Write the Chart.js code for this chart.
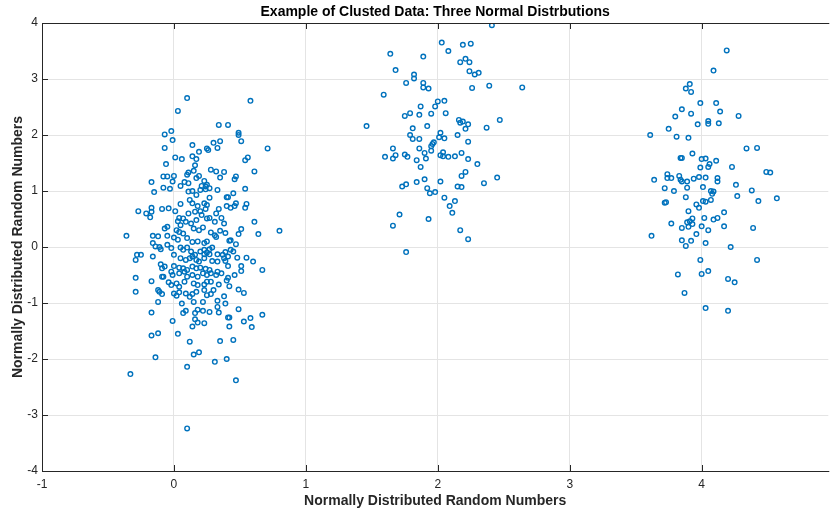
<!DOCTYPE html>
<html>
<head>
<meta charset="utf-8">
<script src="https://cdn.jsdelivr.net/npm/chart.js@4"></script>
<style>
  html, body { margin: 0; padding: 0; background: #fff; }
  #wrap { width: 832px; height: 512px; }
</style>
</head>
<body>
<div id="wrap"><canvas id="myChart" width="832" height="512"></canvas></div>
<script>
// cluster around (0, 0)
const cluster1X = [
  0.10, 0.03, -0.02, -0.07, -0.01, -0.07, 0.14, 0.25, 0.19, 0.01, 0.06, 0.14, 0.17, 0.16, -0.06, 0.15, 0.11, 0.10, 0.19, -0.08,
  -0.05, 0.00, 0.17, -0.17, -0.01, 0.08, 0.11, 0.23, -0.08, -0.03, 0.05, 0.21, 0.24, -0.15, 0.11, 0.14, 0.20, 0.24, 0.25, 0.17,
  -0.17, -0.09, -0.04, 0.05, 0.12, 0.14, 0.18, 0.23, 0.25,
  0.58, 0.34, 0.41, 0.49, 0.49, 0.51, 0.35, 0.30, 0.26, 0.33, 0.71, 0.56, 0.54, 0.28, 0.32, 0.38, 0.61, 0.35, 0.47, 0.46,
  0.27, 0.33, 0.54, 0.45, 0.40, 0.41, 0.27, 0.34, 0.40, 0.43, 0.47, 0.46, 0.55, 0.54,
  -0.27, -0.21, -0.17, 0.01, 0.04, 0.07, 0.11, 0.16, 0.20, 0.24, -0.18, 0.03, 0.05, 0.09, 0.13, 0.15, 0.19, 0.22, 0.25, 0.17,
  0.21, -0.07, -0.05, 0.02, 0.04, 0.07, -0.36, -0.16, -0.12, -0.05, 0.00, 0.03, 0.10, 0.14, 0.18, 0.23, 0.25, -0.16, -0.14, -0.11,
  -0.10, -0.05, -0.02, 0.05, 0.07, 0.10, 0.13, 0.16, 0.20, 0.23, 0.25, -0.28, -0.25, -0.16, -0.29, 0.00, 0.05, 0.09, 0.12, 0.14,
  0.17, 0.19, 0.23, -0.10, -0.09, -0.07, 0.00, 0.04, 0.07, 0.10, 0.14, 0.17, 0.20, 0.24, -0.02, -0.01, 0.04, 0.08, 0.10, 0.14,
  0.18, 0.22, 0.25, -0.09, -0.08, -0.29, -0.17, -0.04, -0.02, 0.02, 0.04, 0.08, 0.15, 0.18, 0.23, 0.25, -0.12, -0.11, -0.09, -0.29,
  0.00, 0.02, 0.04, 0.09, 0.12, 0.14, 0.17, 0.23, 0.25, -0.12, 0.06, 0.15, 0.22, -0.17, 0.07, 0.09, 0.16, 0.18, 0.22,
  0.32, 0.36, 0.27, 0.31, 0.38, 0.61, 0.80, 0.51, 0.49, 0.64, 0.28, 0.31, 0.32, 0.35, 0.39, 0.43, 0.42, 0.47, 0.27, 0.29,
  0.23, 0.27, 0.33, 0.37, 0.39, 0.43, 0.45, 0.48, 0.41, 0.38, 0.39, 0.33, 0.29, 0.41, 0.55, 0.60, 0.51, 0.51, 0.67, 0.27,
  0.28, 0.33, 0.36, 0.32, 0.28, 0.34, 0.41, 0.46, 0.40, 0.42, 0.49, 0.53, 0.30, 0.28, 0.38, 0.33, 0.39, 0.33, 0.49, 0.27,
  0.34, 0.41, 0.42, 0.58, 0.67,
  -0.01, 0.16, 0.18, 0.23, 0.14, 0.42, 0.53, 0.59, -0.17, -0.12, 0.03, 0.12, 0.35, 0.45, -0.14, 0.15, 0.19, 0.31, 0.40, 0.10,
  -0.33, 0.47, 0.10
];
const cluster1Y = [
  2.66, 2.43, 2.07, 2.01, 1.91, 1.77, 1.82, 1.76, 1.70, 1.60, 1.57, 1.62, 1.57, 1.46, 1.48, 1.36, 1.33, 1.29, 1.27, 1.26,
  1.26, 1.27, 1.23, 1.16, 1.17, 1.16, 1.14, 1.18, 1.06, 1.04, 1.09, 1.09, 1.08, 0.98, 0.99, 1.00, 1.02, 1.03, 1.11, 0.93,
  0.70, 0.68, 0.69, 0.77, 0.84, 0.78, 0.73, 0.78, 0.75,
  2.61, 2.18, 2.18, 2.04, 2.00, 1.89, 1.89, 1.86, 1.73, 1.77, 1.76, 1.60, 1.55, 1.38, 1.35, 1.34, 1.35, 1.24, 1.26, 1.21,
  1.05, 1.02, 1.04, 0.96, 0.89, 0.89, 0.88, 0.68, 0.73, 0.70, 0.78, 0.73, 0.77, 0.70,
  0.64, 0.60, 0.63, 0.64, 0.52, 0.51, 0.60, 0.63, 0.64, 0.68, 0.53, 0.46, 0.39, 0.45, 0.42, 0.33, 0.30, 0.35, 0.51, 0.48,
  0.57, 0.33, 0.36, 0.30, 0.27, 0.24, 0.20, 0.20, 0.19, 0.20, 0.17, 0.13, 0.16, 0.09, 0.10, 0.07, 0.10, 0.07, 0.01, 0.00,
  -0.04, 0.04, -0.02, -0.01, -0.05, -0.01, -0.08, -0.14, -0.08, -0.05, -0.10, -0.14, -0.14, -0.17, -0.23, -0.14, -0.20, -0.23, -0.20, -0.17,
  -0.23, -0.26, -0.20, -0.31, -0.38, -0.35, -0.34, -0.37, -0.38, -0.41, -0.35, -0.38, -0.37, -0.39, -0.44, -0.50, -0.47, -0.44, -0.53, -0.50,
  -0.53, -0.47, -0.50, -0.53, -0.53, -0.55, -0.61, -0.63, -0.68, -0.65, -0.71, -0.62, -0.65, -0.68, -0.67, -0.62, -0.77, -0.80, -0.84, -0.80,
  -0.83, -0.87, -0.81, -0.83, -0.89, -0.84, -0.80, -0.77, -0.86, -0.98, -1.01, -0.98, -0.98, -1.17, -1.18, -1.14, -1.18, -1.12, -1.14,
  0.60, 0.52, 0.52, 0.45, 0.42, 0.45, 0.29, 0.32, 0.23, 0.23, 0.26, 0.21, 0.18, 0.29, 0.25, 0.12, 0.11, 0.05, -0.04, -0.01,
  -0.13, -0.13, -0.13, -0.14, -0.09, -0.05, -0.08, -0.19, -0.17, -0.20, -0.25, -0.26, -0.25, -0.34, -0.19, -0.26, -0.34, -0.43, -0.41, -0.41,
  -0.47, -0.44, -0.47, -0.50, -0.62, -0.67, -0.55, -0.50, -0.60, -0.70, -0.76, -0.82, -0.77, -0.84, -0.88, -0.96, -1.01, -1.07, -1.11, -1.16,
  -1.17, -1.26, -1.26, -1.27, -1.21,
  -1.32, -1.29, -1.35, -1.36, -1.42, -1.42, -1.33, -1.43, -1.58, -1.54, -1.55, -1.69, -1.68, -1.66, -1.97, -1.92, -1.88, -2.05, -2.00, -2.14,
  -2.27, -2.38, -3.24
];

// cluster around (2, 2)
const cluster2X = [
  2.03, 1.64, 1.89, 1.68, 1.82, 1.82, 1.76, 1.89, 1.89, 1.93, 1.59, 2.00, 1.98, 1.87, 1.95, 1.86, 1.79, 1.75, 1.46, 1.92,
  1.81, 2.02, 1.79, 1.81, 1.86,
  2.41, 2.19, 2.25, 2.08, 2.21, 2.17, 2.24, 2.24, 2.28, 2.31, 2.26, 2.39, 2.64, 2.05, 2.06, 2.16, 2.17, 2.19, 2.23, 2.21,
  2.47, 2.37, 2.15, 2.05, 2.01,
  2.23, 1.97, 1.96, 1.95, 1.66, 1.86, 1.95, 1.90, 2.04, 2.18, 1.60, 1.66, 1.68, 1.75, 1.77, 1.84, 1.91, 2.02, 2.04, 2.08,
  2.13, 2.23, 2.30, 1.87, 2.21, 2.18, 2.45, 2.35, 1.84, 1.90, 2.02, 1.73, 1.76, 2.15, 2.18, 1.92, 1.94, 1.98, 2.05, 2.13,
  2.09, 2.11, 1.71, 1.66, 1.93, 2.17, 2.23, 1.76
];
const cluster2Y = [
  3.65, 3.45, 3.40, 3.16, 3.08, 3.01, 2.93, 2.93, 2.85, 2.83, 2.72, 2.60, 2.51, 2.51, 2.38, 2.36, 2.39, 2.34, 2.16, 2.16,
  2.12, 2.04, 2.00, 1.93, 1.93,
  3.96, 3.61, 3.63, 3.50, 3.36, 3.30, 3.30, 3.14, 3.08, 3.11, 2.84, 2.88, 2.85, 2.61, 2.39, 2.27, 2.22, 2.24, 2.19, 2.11,
  2.27, 2.13, 2.00, 1.94, 1.96,
  1.88, 1.87, 1.84, 1.80, 1.76, 1.76, 1.72, 1.68, 1.69, 1.68, 1.61, 1.58, 1.64, 1.65, 1.61, 1.55, 1.58, 1.64, 1.62, 1.61,
  1.62, 1.57, 1.48, 1.43, 1.34, 1.27, 1.24, 1.14, 1.16, 1.21, 1.17, 1.08, 1.12, 1.08, 1.07, 1.05, 0.96, 0.98, 0.88, 0.82,
  0.73, 0.61, 0.58, 0.38, 0.50, 0.30, 0.14, -0.09
];

// cluster around (4, 1)
const cluster3X = [
  4.19, 4.09, 3.91, 3.88, 3.92, 3.99, 4.11, 3.85, 3.92, 3.80, 4.14, 4.28, 4.05, 4.05, 3.97, 4.13, 3.75, 3.61, 3.81, 3.90,
  4.34, 4.42, 3.85, 3.84, 3.93, 4.00, 4.03, 4.11, 4.06, 4.05, 3.99, 4.23,
  3.64, 3.74, 3.74, 3.77, 3.83, 3.84, 3.85, 3.89, 3.94, 3.98, 4.03, 4.12, 4.12, 4.26, 4.49, 4.52,
  3.72, 3.79, 3.89, 4.01, 4.07, 4.09, 4.08, 4.27, 4.38,
  3.72, 3.73, 3.88, 4.01, 4.03, 4.07, 3.96, 3.98, 4.43, 4.57,
  3.90, 4.17, 3.93, 4.02, 4.12, 4.09, 3.89, 3.91, 3.93, 3.90, 3.85, 4.00, 4.05, 4.17, 4.39, 3.77,
  3.62, 3.96, 3.85, 3.92, 3.88, 4.03, 4.22,
  3.99, 4.42, 3.82, 4.00, 4.05, 4.20, 4.25, 3.87, 4.03, 4.20
];
const cluster3Y = [
  3.51, 3.15, 2.91, 2.83, 2.77, 2.57, 2.57, 2.46, 2.38, 2.33, 2.42, 2.34, 2.25, 2.20, 2.19, 2.21, 2.11, 2.00, 1.97, 1.95,
  1.76, 1.77, 1.59, 1.59, 1.67, 1.57, 1.58, 1.54, 1.48, 1.43, 1.42, 1.43,
  1.20, 1.30, 1.23, 1.23, 1.27, 1.20, 1.17, 1.17, 1.22, 1.25, 1.24, 1.23, 1.17, 1.11, 1.34, 1.33,
  1.05, 1.00, 1.06, 1.07, 1.00, 0.99, 0.95, 0.91, 1.01,
  0.79, 0.80, 0.89, 0.82, 0.81, 0.84, 0.76, 0.70, 0.82, 0.87,
  0.64, 0.62, 0.51, 0.52, 0.52, 0.49, 0.44, 0.46, 0.41, 0.36, 0.34, 0.37, 0.30, 0.37, 0.34, 0.42,
  0.20, 0.23, 0.12, 0.11, 0.02, 0.07, 0.00,
  -0.23, -0.23, -0.49, -0.48, -0.43, -0.57, -0.63, -0.82, -1.09, -1.14
];

const xTicks = [-1, 0, 1, 2, 3, 4];
const yTicks = [-4, -3, -2, -1, 0, 1, 2, 3, 4];

const markerColor = '#0072BD';
const axisColor = '#262626';
const fontFamily = '"Liberation Sans", Arial, sans-serif';

function toPoints(xs, ys) {
    return xs.map((x, i) => ({ x: x, y: ys[i] }));
}

function clusterDataset(xs, ys) {
    return {
        data: toPoints(xs, ys),
        borderColor: markerColor,
        backgroundColor: 'rgba(255, 255, 255, 0)',
        pointRadius: 2.3,
        pointBorderWidth: 1.4,
        pointHoverRadius: 2.3
    };
}

// box on top/left/bottom plus inward tick marks, like the original axes
const axesBox = {
    id: 'axesBox',
    afterDraw(chart) {
        const { ctx, chartArea: a, scales } = chart;
        ctx.save();
        ctx.strokeStyle = axisColor;
        ctx.lineWidth = 1;
        ctx.beginPath();
        ctx.moveTo(a.right + 1, a.top + 0.5);
        ctx.lineTo(a.left + 0.5, a.top + 0.5);
        ctx.lineTo(a.left + 0.5, a.bottom + 0.5);
        ctx.lineTo(a.right + 1, a.bottom + 0.5);
        xTicks.forEach(v => {
            const px = Math.round(scales.x.getPixelForValue(v)) + 0.5;
            ctx.moveTo(px, a.bottom);
            ctx.lineTo(px, a.bottom - 6);
            ctx.moveTo(px, a.top);
            ctx.lineTo(px, a.top + 6);
        });
        yTicks.forEach(v => {
            const py = Math.round(scales.y.getPixelForValue(v)) + 0.5;
            ctx.moveTo(a.left, py);
            ctx.lineTo(a.left + 6, py);
        });
        ctx.stroke();
        ctx.restore();
    }
};

let ctx = document.getElementById('myChart').getContext('2d');
new Chart(ctx, {
    type: 'scatter',
    data: {
        datasets: [
            clusterDataset(cluster1X, cluster1Y),
            clusterDataset(cluster2X, cluster2Y),
            clusterDataset(cluster3X, cluster3Y)
        ]
    },
    options: {
        responsive: false,
        animation: false,
        layout: { padding: { left: 0, right: 0, top: 0, bottom: 0 } },
        plugins: {
            legend: { display: false },
            tooltip: { enabled: false },
            title: {
                display: true,
                text: 'Example of Clusted Data: Three Normal Distrbutions',
                fullSize: false,
                color: '#000',
                font: { family: fontFamily, size: 14, weight: 'bold' },
                padding: { top: 4, bottom: 2.2 }
            }
        },
        scales: {
            x: {
                type: 'linear',
                min: -1,
                max: 4.96,
                afterBuildTicks: scale => { scale.ticks = xTicks.map(v => ({ value: v })); },
                afterFit: scale => { scale.height = 41; },
                grid: { color: '#e4e4e4', drawTicks: false },
                border: { display: false },
                ticks: {
                    color: axisColor,
                    padding: 6,
                    maxRotation: 0,
                    font: { family: fontFamily, size: 12 }
                },
                title: {
                    display: true,
                    text: 'Normally Distributed Random Numbers',
                    color: axisColor,
                    padding: { top: 0, bottom: 2 },
                    font: { family: fontFamily, size: 14, weight: 'bold' }
                }
            },
            y: {
                type: 'linear',
                min: -4,
                max: 4,
                afterBuildTicks: scale => { scale.ticks = yTicks.map(v => ({ value: v })); },
                afterFit: scale => { scale.width = 42; },
                grid: { color: '#e4e4e4', drawTicks: false },
                border: { display: false },
                ticks: {
                    color: axisColor,
                    padding: 4,
                    font: { family: fontFamily, size: 12 }
                },
                title: {
                    display: true,
                    text: 'Normally Distributed Random Numbers',
                    color: axisColor,
                    padding: { top: 10, bottom: 0 },
                    font: { family: fontFamily, size: 14, weight: 'bold' }
                }
            }
        }
    },
    plugins: [axesBox]
});
</script>
</body>
</html>
